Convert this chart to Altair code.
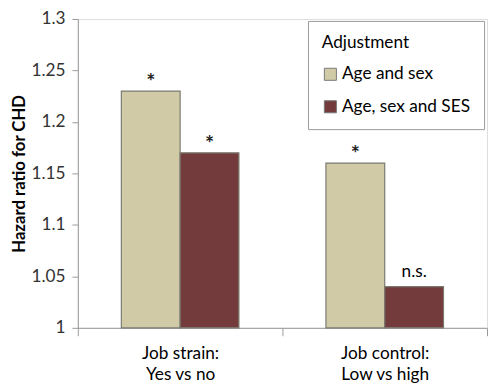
import altair as alt
import pandas as pd

groups = ["Job strain:|Yes vs no", "Job control:|Low vs high"]
series = ["Age and sex", "Age, sex and SES"]
values = [[1.23, 1.17], [1.16, 1.04]]
annotations = [["*", "*"], ["*", "n.s."]]
colors = ["#D0CBA6", "#733B3B"]
y_ticks = [1, 1.05, 1.1, 1.15, 1.2, 1.25, 1.3]

rows = []
for gi, g in enumerate(groups):
    for si, s in enumerate(series):
        rows.append({"group": g, "series": s, "value": values[gi][si], "label": annotations[gi][si]})
df = pd.DataFrame(rows)

FONT = "Lato"
FS = 17.5

base = alt.Chart(df).encode(
    x=alt.X(
        "group:N",
        sort=groups,
        scale=alt.Scale(paddingInner=0, paddingOuter=0),
        axis=alt.Axis(
            title=None,
            labelExpr="split(datum.label, '|')",
            labelAngle=0,
            tickBand="extent",
            tickSize=8,
            tickColor="#999999",
            domainColor="#999999",
            labelFontSize=FS,
            labelColor="#000000",
            labelFont=FONT,
            labelLineHeight=22,
            labelPadding=9,
        ),
    ),
    xOffset=alt.XOffset("series:N", sort=series, scale=alt.Scale(paddingInner=0, paddingOuter=0.74)),
)

bars = base.mark_bar(stroke="#7a7a70", strokeWidth=1.2).encode(
    y=alt.Y(
        "value:Q",
        scale=alt.Scale(domain=[1, 1.3], zero=False, nice=False),
        axis=alt.Axis(
            title="Hazard ratio for CHD",
            values=y_ticks,
            format=".2~f",
            grid=False,
            tickSize=6,
            tickColor="#999999",
            domainColor="#999999",
            labelFontSize=FS,
            labelColor="#333333",
            labelFont=FONT,
            labelPadding=7,
            titleFont=FONT,
            titleFontSize=17,
            titleFontWeight="bold",
            titleColor="#000000",
            titlePadding=3,
        ),
    ),
    y2=alt.datum(1),
    color=alt.Color(
        "series:N",
        scale=alt.Scale(domain=series, range=colors),
        legend=alt.Legend(
            title="Adjustment",
            orient="none",
            legendX=234,
            legendY=2,
            padding=14,
            strokeColor="#999999",
            fillColor="#ffffff",
            titleFont=FONT,
            titleFontSize=FS,
            titleFontWeight="normal",
            titleColor="#000000",
            titlePadding=14,
            labelFont=FONT,
            labelFontSize=FS,
            labelColor="#000000",
            symbolType="square",
            symbolSize=150,
            symbolStrokeColor="#777777",
            symbolStrokeWidth=1,
            rowPadding=14,
            labelOffset=3,
        ),
    ),
)

stars = base.transform_filter("datum.label == '*'").mark_text(
    dy=-9, fontSize=22, fontWeight="bold", font=FONT, color="#222222"
).encode(
    y=alt.Y("value:Q"),
    text="label:N",
)

ns = base.transform_filter("datum.label != '*'").mark_text(
    dy=-15, fontSize=FS, font=FONT, color="#000000"
).encode(
    y=alt.Y("value:Q"),
    text="label:N",
)

chart = (
    alt.layer(bars, stars, ns)
    .properties(
        width=416,
        height=314,
        autosize=alt.AutoSizeParams(type="none"),
        padding={"left": 71, "top": 8, "right": 1, "bottom": 57},
    )
    .configure_view(stroke=None)
    .configure(background="#ffffff")
)

chart.save("out.html", embed_options={"renderer": "svg", "actions": False})
